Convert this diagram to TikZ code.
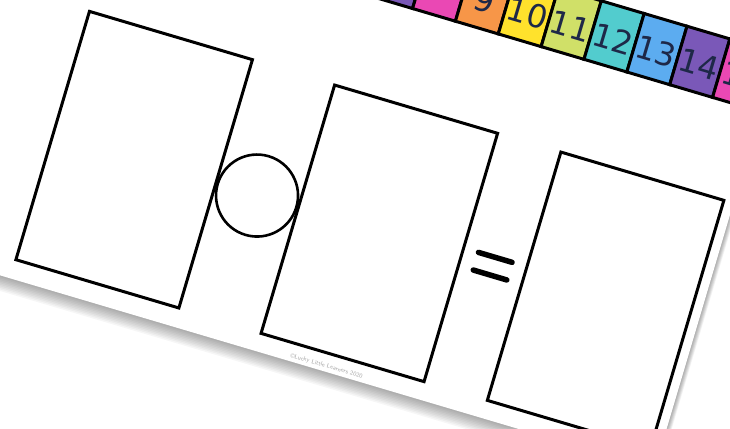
\documentclass[tikz,border=0pt]{standalone}
\usepackage{fontspec}
\newfontfamily\numfont{DejaVu Sans}
\definecolor{cpurple}{RGB}{122,88,184}
\definecolor{cpink}{RGB}{234,72,180}
\definecolor{corange}{RGB}{247,150,72}
\definecolor{cyellow}{RGB}{255,226,44}
\definecolor{cgreen}{RGB}{208,224,104}
\definecolor{cteal}{RGB}{82,204,206}
\definecolor{cblue}{RGB}{92,172,240}
\definecolor{navy}{RGB}{30,40,72}
\tikzset{
	card/.style={draw=black,line width=3pt,minimum width=170pt,minimum height=259pt,inner sep=0pt,transform shape},
	ring/.style={draw=black,line width=2.6pt,circle,minimum size=82pt,inner sep=0pt,transform shape},
	eqbar/.style={line width=5.5pt,line cap=round},
	cell/.style={draw=black,line width=3pt},
	num/.style={font=\numfont\fontsize{32}{32}\selectfont,text=navy,inner sep=0pt,transform shape}
}
\begin{document}
\begin{tikzpicture}[x=1pt,y=1pt]
	\useasboundingbox (0,-428) rectangle (730,0);
	\clip (0,-428) rectangle (730,0);
	\fill[white] (0,-428) rectangle (730,0);
	\begin{scope}[rotate=-16.5]
		% sheet and its shadow
		\foreach \i in {1,...,10} \fill[black,opacity=0.035] (-200+\i*0.5,300-\i*1.5) rectangle (761+\i*0.5,-264-\i*1.5);
		\fill[white] (-200,300) rectangle (761,-264);
		% number strip
		\foreach \n/\c in {7/cpurple,8/cpink,9/corange,10/cyellow,11/cgreen,12/cteal,13/cblue,14/cpurple,15/cpink} {
			\fill[\c] ({353.3+(\n-7)*44.7},109) rectangle ++(44.7,61);
			\node[num] (n\n) at ({375.65+(\n-7)*44.7},137) {\n};
			\draw[cell] ({353.3+(\n-7)*44.7},109) rectangle ++(44.7,61);
		}
		\node[card] (left) at (174,-115) {};
		\node[card] (mid) at (430,-116) {};
		\node[card] (right) at (666,-116) {};
		\node[ring] (sign) at (302,-114.5) {};
		\coordinate (eq) at (548,-115.3);
		\draw[eqbar] (eq) ++(-17.5,9.2) -- ++(35,0);
		\draw[eqbar] (eq) ++(-17.5,-9.2) -- ++(35,0);
		\node[transform shape,font=\sffamily\fontsize{6}{6}\selectfont,text=black!35] (credit) at (417,-258.5) {\textcopyright Lucky Little Learners 2020};
	\end{scope}
\end{tikzpicture}
\end{document}
